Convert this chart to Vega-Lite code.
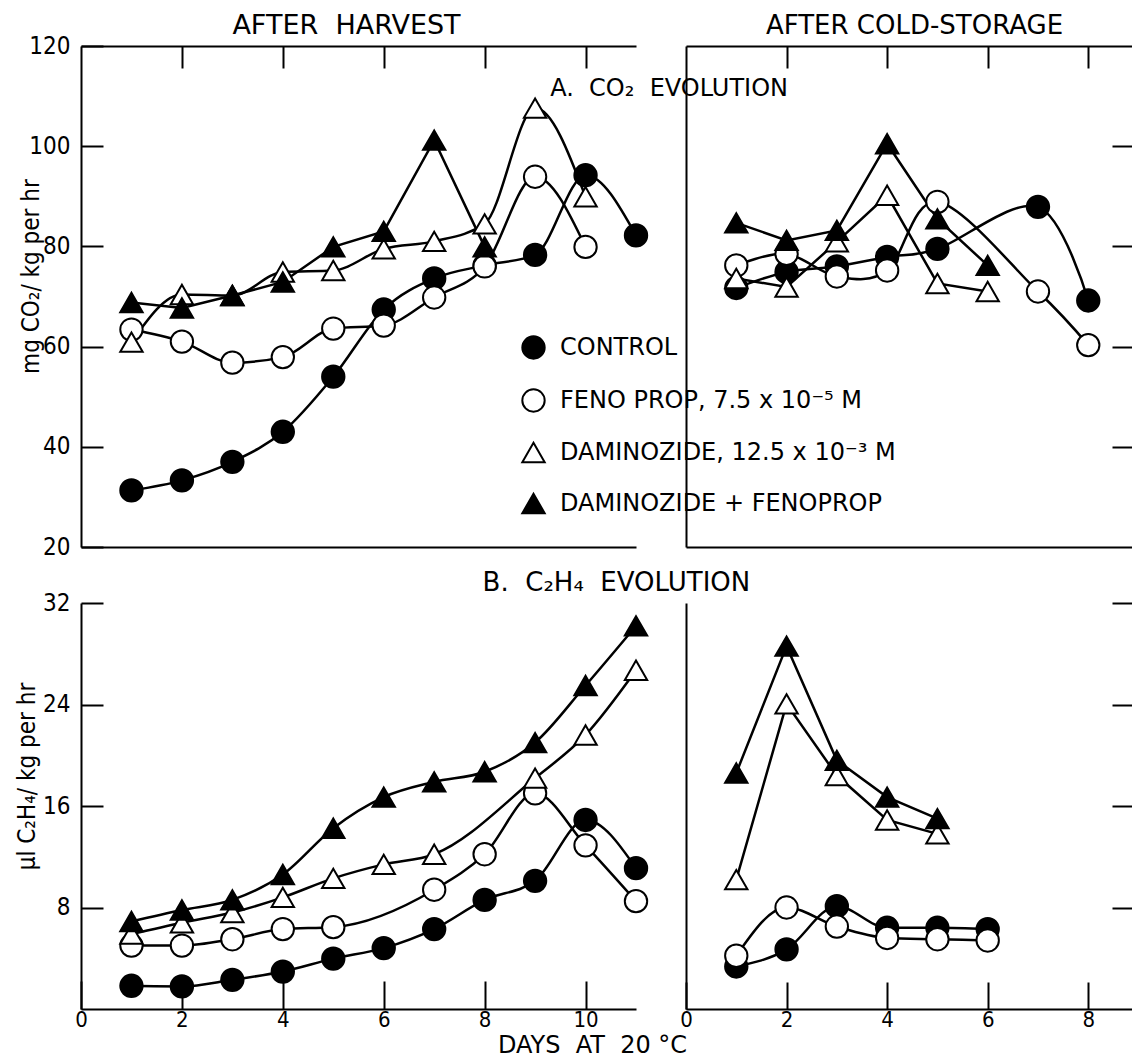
{
  "$schema": "https://vega.github.io/schema/vega-lite/v6.json",
  "background": "white",
  "padding": {"left": 15, "top": 11, "right": 0, "bottom": 0},
  "config": {
    "font": "DejaVu Sans Condensed, DejaVu Sans, sans-serif",
    "view": {"stroke": null},
    "axis": {"domainColor": "black", "domainWidth": 2, "tickColor": "black", "tickWidth": 2, "labelColor": "black", "labelFontSize": 24, "titleColor": "black", "titleFontSize": 24, "titleFontWeight": "normal", "grid": false, "labelFlush": false, "labelOverlap": false}
  },
  "datasets": {
    "d": [
      {"p": "A1", "t": "C", "day": 1, "v": 31.3}, {"p": "A1", "t": "C", "day": 2, "v": 33.3}, {"p": "A1", "t": "C", "day": 3, "v": 37.0}, {"p": "A1", "t": "C", "day": 4, "v": 43.0}, {"p": "A1", "t": "C", "day": 5, "v": 54.0}, {"p": "A1", "t": "C", "day": 6, "v": 67.4}, {"p": "A1", "t": "C", "day": 7, "v": 73.6}, {"p": "A1", "t": "C", "day": 8, "v": 76.2}, {"p": "A1", "t": "C", "day": 9, "v": 78.3}, {"p": "A1", "t": "C", "day": 10, "v": 94.2}, {"p": "A1", "t": "C", "day": 11, "v": 82.2},
      {"p": "A1", "t": "F", "day": 1, "v": 63.4}, {"p": "A1", "t": "F", "day": 2, "v": 61.0}, {"p": "A1", "t": "F", "day": 3, "v": 56.8}, {"p": "A1", "t": "F", "day": 4, "v": 57.9}, {"p": "A1", "t": "F", "day": 5, "v": 63.6}, {"p": "A1", "t": "F", "day": 6, "v": 64.2}, {"p": "A1", "t": "F", "day": 7, "v": 69.8}, {"p": "A1", "t": "F", "day": 8, "v": 76.0}, {"p": "A1", "t": "F", "day": 9, "v": 93.9}, {"p": "A1", "t": "F", "day": 10, "v": 79.9},
      {"p": "A1", "t": "D", "day": 1, "v": 60.9}, {"p": "A1", "t": "D", "day": 2, "v": 70.4}, {"p": "A1", "t": "D", "day": 3, "v": 70.2}, {"p": "A1", "t": "D", "day": 4, "v": 74.9}, {"p": "A1", "t": "D", "day": 5, "v": 75.2}, {"p": "A1", "t": "D", "day": 6, "v": 79.5}, {"p": "A1", "t": "D", "day": 7, "v": 81.0}, {"p": "A1", "t": "D", "day": 8, "v": 84.5}, {"p": "A1", "t": "D", "day": 9, "v": 107.6}, {"p": "A1", "t": "D", "day": 10, "v": 89.9},
      {"p": "A1", "t": "DF", "day": 1, "v": 68.8}, {"p": "A1", "t": "DF", "day": 2, "v": 67.7}, {"p": "A1", "t": "DF", "day": 3, "v": 70.2}, {"p": "A1", "t": "DF", "day": 4, "v": 72.9}, {"p": "A1", "t": "DF", "day": 5, "v": 79.9}, {"p": "A1", "t": "DF", "day": 6, "v": 83.0}, {"p": "A1", "t": "DF", "day": 7, "v": 101.2}, {"p": "A1", "t": "DF", "day": 8, "v": 79.9},
      {"p": "A2", "t": "C", "day": 1, "v": 71.7}, {"p": "A2", "t": "C", "day": 2, "v": 74.9}, {"p": "A2", "t": "C", "day": 3, "v": 76.0}, {"p": "A2", "t": "C", "day": 4, "v": 77.9}, {"p": "A2", "t": "C", "day": 5, "v": 79.5}, {"p": "A2", "t": "C", "day": 7, "v": 87.9}, {"p": "A2", "t": "C", "day": 8, "v": 69.2},
      {"p": "A2", "t": "F", "day": 1, "v": 76.2}, {"p": "A2", "t": "F", "day": 2, "v": 78.5}, {"p": "A2", "t": "F", "day": 3, "v": 74.0}, {"p": "A2", "t": "F", "day": 4, "v": 75.2}, {"p": "A2", "t": "F", "day": 5, "v": 88.9}, {"p": "A2", "t": "F", "day": 7, "v": 71.0}, {"p": "A2", "t": "F", "day": 8, "v": 60.3},
      {"p": "A2", "t": "D", "day": 1, "v": 73.6}, {"p": "A2", "t": "D", "day": 2, "v": 71.9}, {"p": "A2", "t": "D", "day": 3, "v": 80.9}, {"p": "A2", "t": "D", "day": 4, "v": 90.2}, {"p": "A2", "t": "D", "day": 5, "v": 72.6}, {"p": "A2", "t": "D", "day": 6, "v": 71.0},
      {"p": "A2", "t": "DF", "day": 1, "v": 84.7}, {"p": "A2", "t": "DF", "day": 2, "v": 81.2}, {"p": "A2", "t": "DF", "day": 3, "v": 83.2}, {"p": "A2", "t": "DF", "day": 4, "v": 100.5}, {"p": "A2", "t": "DF", "day": 5, "v": 85.5}, {"p": "A2", "t": "DF", "day": 6, "v": 76.2},
      {"p": "B1", "t": "C", "day": 1, "v": 1.83}, {"p": "B1", "t": "C", "day": 2, "v": 1.78}, {"p": "B1", "t": "C", "day": 3, "v": 2.3}, {"p": "B1", "t": "C", "day": 4, "v": 2.95}, {"p": "B1", "t": "C", "day": 5, "v": 3.97}, {"p": "B1", "t": "C", "day": 6, "v": 4.8}, {"p": "B1", "t": "C", "day": 7, "v": 6.3}, {"p": "B1", "t": "C", "day": 8, "v": 8.6}, {"p": "B1", "t": "C", "day": 9, "v": 10.1}, {"p": "B1", "t": "C", "day": 10, "v": 14.9}, {"p": "B1", "t": "C", "day": 11, "v": 11.1},
      {"p": "B1", "t": "F", "day": 1, "v": 5.0}, {"p": "B1", "t": "F", "day": 2, "v": 5.0}, {"p": "B1", "t": "F", "day": 3, "v": 5.5}, {"p": "B1", "t": "F", "day": 4, "v": 6.3}, {"p": "B1", "t": "F", "day": 5, "v": 6.45}, {"p": "B1", "t": "F", "day": 7, "v": 9.4}, {"p": "B1", "t": "F", "day": 8, "v": 12.2}, {"p": "B1", "t": "F", "day": 9, "v": 17.0}, {"p": "B1", "t": "F", "day": 10, "v": 12.9}, {"p": "B1", "t": "F", "day": 11, "v": 8.5},
      {"p": "B1", "t": "D", "day": 1, "v": 5.9}, {"p": "B1", "t": "D", "day": 2, "v": 6.8}, {"p": "B1", "t": "D", "day": 3, "v": 7.6}, {"p": "B1", "t": "D", "day": 4, "v": 8.8}, {"p": "B1", "t": "D", "day": 5, "v": 10.3}, {"p": "B1", "t": "D", "day": 6, "v": 11.4}, {"p": "B1", "t": "D", "day": 7, "v": 12.2}, {"p": "B1", "t": "D", "day": 9, "v": 18.2}, {"p": "B1", "t": "D", "day": 10, "v": 21.6}, {"p": "B1", "t": "D", "day": 11, "v": 26.7},
      {"p": "B1", "t": "DF", "day": 1, "v": 6.9}, {"p": "B1", "t": "DF", "day": 2, "v": 7.8}, {"p": "B1", "t": "DF", "day": 3, "v": 8.6}, {"p": "B1", "t": "DF", "day": 4, "v": 10.6}, {"p": "B1", "t": "DF", "day": 5, "v": 14.25}, {"p": "B1", "t": "DF", "day": 6, "v": 16.7}, {"p": "B1", "t": "DF", "day": 7, "v": 17.9}, {"p": "B1", "t": "DF", "day": 8, "v": 18.7}, {"p": "B1", "t": "DF", "day": 9, "v": 21.0}, {"p": "B1", "t": "DF", "day": 10, "v": 25.5}, {"p": "B1", "t": "DF", "day": 11, "v": 30.2},
      {"p": "B2", "t": "C", "day": 1, "v": 3.35}, {"p": "B2", "t": "C", "day": 2, "v": 4.7}, {"p": "B2", "t": "C", "day": 3, "v": 8.1}, {"p": "B2", "t": "C", "day": 4, "v": 6.4}, {"p": "B2", "t": "C", "day": 5, "v": 6.4}, {"p": "B2", "t": "C", "day": 6, "v": 6.3},
      {"p": "B2", "t": "F", "day": 1, "v": 4.2}, {"p": "B2", "t": "F", "day": 2, "v": 8.0}, {"p": "B2", "t": "F", "day": 3, "v": 6.5}, {"p": "B2", "t": "F", "day": 4, "v": 5.6}, {"p": "B2", "t": "F", "day": 5, "v": 5.5}, {"p": "B2", "t": "F", "day": 6, "v": 5.4},
      {"p": "B2", "t": "D", "day": 1, "v": 10.2}, {"p": "B2", "t": "D", "day": 2, "v": 24.05}, {"p": "B2", "t": "D", "day": 3, "v": 18.4}, {"p": "B2", "t": "D", "day": 4, "v": 14.9}, {"p": "B2", "t": "D", "day": 5, "v": 13.8},
      {"p": "B2", "t": "DF", "day": 1, "v": 18.6}, {"p": "B2", "t": "DF", "day": 2, "v": 28.6}, {"p": "B2", "t": "DF", "day": 3, "v": 19.6}, {"p": "B2", "t": "DF", "day": 4, "v": 16.7}, {"p": "B2", "t": "DF", "day": 5, "v": 15.0}
    ]
  },
  "columns": 2,
  "spacing": {"row": 56, "column": 50},
  "bounds": "flush",
  "align": "each",
  "concat": [
    {
      "width": 555, "height": 501,
      "layer": [
        {
          "data": {"name": "d"},
          "transform": [{"filter": "datum.p === 'A1' && datum.t !== 'DF'"}],
          "mark": {"type": "line", "interpolate": "monotone", "color": "black", "strokeWidth": 2.5},
          "encoding": {
            "x": {"field": "day", "type": "quantitative", "scale": {"domain": [0, 11], "nice": false, "zero": false}, "axis": {"orient": "top", "values": [2, 4, 6, 8, 10], "labels": false, "tickSize": -22, "title": "AFTER\u00a0\u00a0HARVEST", "titleFont": "DejaVu Sans", "titleX": 265, "titleY": -21, "titleBaseline": "middle", "titleAlign": "center", "titleFontSize": 27}},
            "y": {"field": "v", "type": "quantitative", "scale": {"domain": [20, 120], "nice": false, "zero": false}, "axis": {"orient": "left", "values": [20, 40, 60, 80, 100, 120], "tickSize": -22, "labelPadding": 33, "title": "mg CO₂/ kg per hr", "titleX": -50, "titleY": 230, "titleAngle": 270, "titleBaseline": "middle", "titleAlign": "center"}},
            "detail": {"field": "t"}
          }
        },
        {
          "data": {"name": "d"},
          "transform": [{"filter": "datum.p === 'A1' && datum.t === 'DF'"}],
          "mark": {"type": "line", "interpolate": "linear", "color": "black", "strokeWidth": 2.5},
          "encoding": {
            "x": {"field": "day", "type": "quantitative", "axis": null},
            "y": {"field": "v", "type": "quantitative", "axis": null},
            "detail": {"field": "t"}
          }
        },
        {
          "data": {"name": "d"},
          "transform": [{"filter": "datum.p === 'A1'"}],
          "mark": {"type": "point", "filled": true, "stroke": "black", "strokeWidth": 2, "size": 500, "opacity": 1},
          "encoding": {
            "x": {"field": "day", "type": "quantitative", "axis": {"orient": "bottom", "ticks": false, "labels": false, "title": null, "domain": true}},
            "y": {"field": "v", "type": "quantitative", "axis": null},
            "fill": {"field": "t", "type": "nominal", "scale": {"domain": ["C", "F", "D", "DF"], "range": ["black", "white", "white", "black"]},
              "legend": {"title": null, "orient": "none", "legendX": 440, "legendY": 289, "padding": 0, "labelFont": "DejaVu Sans", "labelFontSize": 24, "labelColor": "black", "symbolSize": 500, "symbolStrokeColor": "black", "symbolStrokeWidth": 2, "symbolOpacity": 1, "labelOffset": 14, "rowPadding": 22, "labelLimit": 600,
                "encode": {"symbols": {"update": {"stroke": {"value": "black"}, "strokeWidth": {"value": 2}}}},
                "labelExpr": "datum.value === 'C' ? 'CONTROL' : datum.value === 'F' ? 'FENO PROP, 7.5 x 10⁻⁵ M' : datum.value === 'D' ? 'DAMINOZIDE, 12.5 x 10⁻³ M' : 'DAMINOZIDE + FENOPROP'"}},
            "shape": {"field": "t", "type": "nominal", "scale": {"domain": ["C", "F", "D", "DF"], "range": ["circle", "circle", "triangle-up", "triangle-up"]},
              "legend": {"title": null, "orient": "none", "legendX": 440, "legendY": 289, "padding": 0, "labelFont": "DejaVu Sans", "labelFontSize": 24, "labelColor": "black", "symbolSize": 500, "symbolStrokeColor": "black", "symbolStrokeWidth": 2, "symbolOpacity": 1, "labelOffset": 14, "rowPadding": 22, "labelLimit": 600,
                "encode": {"symbols": {"update": {"stroke": {"value": "black"}, "strokeWidth": {"value": 2}}}},
                "labelExpr": "datum.value === 'C' ? 'CONTROL' : datum.value === 'F' ? 'FENO PROP, 7.5 x 10⁻⁵ M' : datum.value === 'D' ? 'DAMINOZIDE, 12.5 x 10⁻³ M' : 'DAMINOZIDE + FENOPROP'"}}
          }
        },
        {
          "data": {"values": [{"label": "A.\u00a0\u00a0CO₂\u00a0\u00a0EVOLUTION", "day": 9.3, "v": 111.4}]},
          "mark": {"type": "text", "align": "left", "baseline": "middle", "fontSize": 24, "font": "DejaVu Sans", "color": "black"},
          "encoding": {
            "x": {"field": "day", "type": "quantitative", "axis": null},
            "y": {"field": "v", "type": "quantitative", "axis": null},
            "text": {"field": "label"}
          }
        }
      ],
      "resolve": {"axis": {"x": "independent", "y": "independent"}}
    },
    {
      "width": 446, "height": 501,
      "layer": [
        {
          "data": {"name": "d"},
          "transform": [{"filter": "datum.p === 'A2' && (datum.t === 'C' || datum.t === 'F')"}],
          "mark": {"type": "line", "interpolate": "cardinal", "color": "black", "strokeWidth": 2.5},
          "encoding": {
            "x": {"field": "day", "type": "quantitative", "scale": {"domain": [0, 8.87], "nice": false, "zero": false}, "axis": {"orient": "top", "values": [2, 4, 6, 8], "labels": false, "tickSize": -22, "title": "AFTER COLD-STORAGE", "titleFont": "DejaVu Sans", "titleX": 228, "titleY": -21, "titleBaseline": "middle", "titleAlign": "center", "titleFontSize": 26}},
            "y": {"field": "v", "type": "quantitative", "scale": {"domain": [20, 120], "nice": false, "zero": false}, "axis": {"orient": "left", "ticks": false, "labels": false, "title": null, "domain": true}},
            "detail": {"field": "t"}
          }
        },
        {
          "data": {"name": "d"},
          "transform": [{"filter": "datum.p === 'A2' && (datum.t === 'D' || datum.t === 'DF')"}],
          "mark": {"type": "line", "interpolate": "linear", "color": "black", "strokeWidth": 2.5},
          "encoding": {
            "x": {"field": "day", "type": "quantitative", "axis": null},
            "y": {"field": "v", "type": "quantitative", "axis": null},
            "detail": {"field": "t"}
          }
        },
        {
          "data": {"name": "d"},
          "transform": [{"filter": "datum.p === 'A2'"}],
          "mark": {"type": "point", "filled": true, "stroke": "black", "strokeWidth": 2, "size": 500, "opacity": 1},
          "encoding": {
            "x": {"field": "day", "type": "quantitative", "axis": {"orient": "bottom", "ticks": false, "labels": false, "title": null, "domain": true}},
            "y": {"field": "v", "type": "quantitative", "axis": {"orient": "right", "values": [40, 60, 80, 100], "tickSize": -20, "labels": false, "domain": false, "title": null}},
            "fill": {"field": "t", "type": "nominal", "scale": {"domain": ["C", "F", "D", "DF"], "range": ["black", "white", "white", "black"]}},
            "shape": {"field": "t", "type": "nominal", "scale": {"domain": ["C", "F", "D", "DF"], "range": ["circle", "circle", "triangle-up", "triangle-up"]}}
          }
        }
      ],
      "resolve": {"axis": {"x": "independent", "y": "independent"}}
    },
    {
      "width": 555, "height": 406,
      "layer": [
        {
          "data": {"name": "d"},
          "transform": [{"filter": "datum.p === 'B1'"}],
          "mark": {"type": "line", "interpolate": "monotone", "color": "black", "strokeWidth": 2.5},
          "encoding": {
            "x": {"field": "day", "type": "quantitative", "scale": {"domain": [0, 11], "nice": false, "zero": false}, "axis": {"orient": "bottom", "values": [0, 2, 4, 6, 8, 10], "tickSize": -28, "labelPadding": 28, "labelFontSize": 22, "title": "DAYS\u00a0\u00a0AT\u00a0\u00a020\u00a0°C", "titleFont": "DejaVu Sans", "titleX": 511, "titleY": 36, "titleBaseline": "middle", "titleAlign": "center"}},
            "y": {"field": "v", "type": "quantitative", "scale": {"domain": [0, 32], "nice": false, "zero": false}, "axis": {"orient": "left", "values": [8, 16, 24, 32], "tickSize": -22, "labelPadding": 33, "title": "µl C₂H₄/ kg per hr", "titleX": -54, "titleY": 173, "titleAngle": 270, "titleBaseline": "middle", "titleAlign": "center"}},
            "detail": {"field": "t"}
          }
        },
        {
          "data": {"name": "d"},
          "transform": [{"filter": "datum.p === 'B1'"}],
          "mark": {"type": "point", "filled": true, "stroke": "black", "strokeWidth": 2, "size": 500, "opacity": 1},
          "encoding": {
            "x": {"field": "day", "type": "quantitative", "axis": null},
            "y": {"field": "v", "type": "quantitative", "axis": null},
            "fill": {"field": "t", "type": "nominal", "scale": {"domain": ["C", "F", "D", "DF"], "range": ["black", "white", "white", "black"]}},
            "shape": {"field": "t", "type": "nominal", "scale": {"domain": ["C", "F", "D", "DF"], "range": ["circle", "circle", "triangle-up", "triangle-up"]}}
          }
        },
        {
          "data": {"values": [{"label": "B.\u00a0\u00a0C₂H₄\u00a0\u00a0EVOLUTION", "day": 7.96, "v": 33.6}]},
          "mark": {"type": "text", "align": "left", "baseline": "middle", "fontSize": 26, "font": "DejaVu Sans", "color": "black"},
          "encoding": {
            "x": {"field": "day", "type": "quantitative", "axis": null},
            "y": {"field": "v", "type": "quantitative", "axis": null},
            "text": {"field": "label"}
          }
        }
      ],
      "resolve": {"axis": {"x": "independent", "y": "independent"}}
    },
    {
      "width": 446, "height": 406,
      "layer": [
        {
          "data": {"name": "d"},
          "transform": [{"filter": "datum.p === 'B2' && (datum.t === 'C' || datum.t === 'F')"}],
          "mark": {"type": "line", "interpolate": "monotone", "color": "black", "strokeWidth": 2.5},
          "encoding": {
            "x": {"field": "day", "type": "quantitative", "scale": {"domain": [0, 8.87], "nice": false, "zero": false}, "axis": {"orient": "bottom", "values": [0, 2, 4, 6, 8], "tickSize": -27, "labelPadding": 27, "labelFontSize": 22, "title": null}},
            "y": {"field": "v", "type": "quantitative", "scale": {"domain": [0, 32], "nice": false, "zero": false}, "axis": {"orient": "left", "ticks": false, "labels": false, "title": null, "domain": true}},
            "detail": {"field": "t"}
          }
        },
        {
          "data": {"name": "d"},
          "transform": [{"filter": "datum.p === 'B2' && (datum.t === 'D' || datum.t === 'DF')"}],
          "mark": {"type": "line", "interpolate": "linear", "color": "black", "strokeWidth": 2.5},
          "encoding": {
            "x": {"field": "day", "type": "quantitative", "axis": null},
            "y": {"field": "v", "type": "quantitative", "axis": null},
            "detail": {"field": "t"}
          }
        },
        {
          "data": {"name": "d"},
          "transform": [{"filter": "datum.p === 'B2'"}],
          "mark": {"type": "point", "filled": true, "stroke": "black", "strokeWidth": 2, "size": 500, "opacity": 1},
          "encoding": {
            "x": {"field": "day", "type": "quantitative", "axis": null},
            "y": {"field": "v", "type": "quantitative", "axis": {"orient": "right", "values": [8, 16, 24, 32], "tickSize": -20, "labels": false, "domain": false, "title": null}},
            "fill": {"field": "t", "type": "nominal", "scale": {"domain": ["C", "F", "D", "DF"], "range": ["black", "white", "white", "black"]}},
            "shape": {"field": "t", "type": "nominal", "scale": {"domain": ["C", "F", "D", "DF"], "range": ["circle", "circle", "triangle-up", "triangle-up"]}}
          }
        }
      ],
      "resolve": {"axis": {"x": "independent", "y": "independent"}}
    }
  ]
}
